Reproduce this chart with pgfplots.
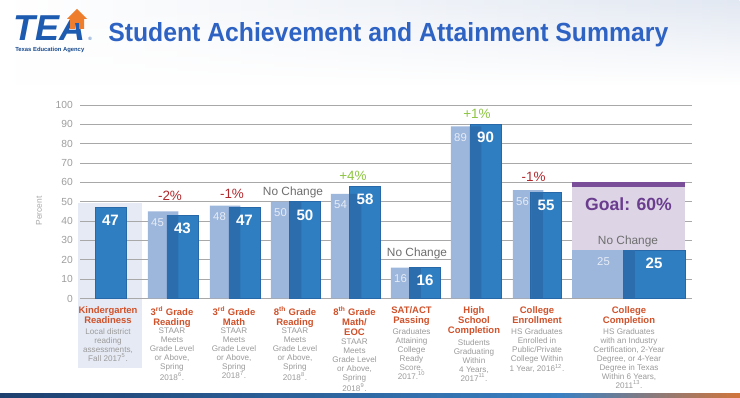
\documentclass[border=0pt]{standalone}
\usepackage{fontspec}
\setmainfont{Liberation Sans}
\usepackage{pgfplots}
\pgfplotsset{compat=1.18}
\usetikzlibrary{fadings}
\definecolor{darkbar}{HTML}{2F7EC1}
\definecolor{darkedge}{HTML}{2769A8}
\definecolor{lightbar}{HTML}{9DB6DC}
\definecolor{overlapc}{HTML}{2C6DAD}
\definecolor{titleblue}{HTML}{2E63C4}
\definecolor{teablue}{HTML}{1C5BB0}
\definecolor{teaorange}{HTML}{EE7D2E}
\definecolor{catorange}{HTML}{D0522B}
\definecolor{descgray}{HTML}{9B9B9B}
\definecolor{tickgray}{HTML}{9E9E9E}
\definecolor{gridgray}{HTML}{A8A8A8}
\definecolor{redpct}{HTML}{B0282C}
\definecolor{greenpct}{HTML}{8DC641}
\definecolor{ncgray}{HTML}{6E6E6E}
\definecolor{goalfill}{HTML}{DDD4E6}
\definecolor{goalline}{HTML}{7A4E98}
\definecolor{goaltext}{HTML}{6A3D8E}
\definecolor{kshade}{HTML}{E6EAF4}
\definecolor{hdr}{HTML}{E2E8F2}
\definecolor{lightlbl}{HTML}{E6ECF6}
\definecolor{navy}{HTML}{1D3F6E}
\definecolor{midblue}{HTML}{3A80C2}
\definecolor{endorange}{HTML}{D2753A}
\newcommand{\cattitle}[3]{\node[anchor=north, align=center, inner sep=0pt, font=\bfseries\fontsize{7.1}{7.5}\selectfont, text=catorange] at (#1,#2) {#3};}
\newcommand{\catdesc}[3]{\node[anchor=north, align=center, inner sep=0pt, font=\fontsize{6.1}{6.75}\selectfont, text=descgray] at (#1,#2) {#3};}
\begin{document}
\begin{tikzpicture}
\begin{axis}[
  set layers,
  axis on top=false,
  at={(60pt,74.625pt)}, anchor=south west,
  x=0.75pt, y=1.45125pt,
  xmin=80, xmax=692, ymin=0, ymax=100,
  enlargelimits=false,
  axis line style={draw=none},
  major tick length=0pt,
  xtick=\empty,
  ytick={0,10,...,100},
  ymajorgrids, grid style={gridgray, line width=0.7pt},
  yticklabel style={font=\fontsize{7.7}{8}\selectfont, text=tickgray, inner sep=0pt, xshift=-5.25pt},
  clip=false,
  /pgf/number format/assume math mode=true,
]
% slide background (pixel x = axis x; axis y = (298.5 - pixel y)/1.935)
\begin{pgfonlayer}{axis background}
  \fill[white] (axis cs:0,154.26) rectangle (axis cs:740,-51.42);
  \shade[left color=white,right color=hdr,path fading=south] (axis cs:0,154.26) rectangle (axis cs:740,110.34);
  \fill[kshade] (axis cs:78,49.35) rectangle (axis cs:142,-35.92);
  \shade[left color=navy,right color=midblue] (axis cs:0,-49.35) rectangle (axis cs:560,-51.42);
  \shade[left color=midblue,right color=endorange] (axis cs:559.5,-49.35) rectangle (axis cs:740,-51.42);
\end{pgfonlayer}
\fill[goalfill] (axis cs:571.5,0) rectangle (axis cs:685,60);
\fill[goalline] (axis cs:571.5,57.6) rectangle (axis cs:685,60);
% previous year (light)
\addplot[ybar, bar width=30.5, bar shift=0pt, fill=lightbar, draw=none,
  nodes near coords, every node near coord/.append style={anchor=north, inner sep=0pt, yshift=-5.2pt, xshift=-4.1pt, font=\fontsize{8.5}{9}\selectfont, text=lightlbl}]
  coordinates {(163,45) (225,48) (286,50) (346,54) (406,16) (466,89) (528,56)};
\addplot[ybar, bar width=63, bar shift=0pt, fill=lightbar, draw=none,
  nodes near coords, every node near coord/.append style={anchor=north, inner sep=0pt, yshift=-5.2pt, font=\fontsize{8.5}{9}\selectfont, text=lightlbl}]
  coordinates {(603.5,25)};
% current year (dark)
\addplot[ybar, bar width=31, bar shift=0pt, fill=darkbar, draw=darkedge, line width=0.5pt]
  coordinates {(110.5,47) (182.5,43) (244.5,47) (305,50) (365,58) (425,16) (485.5,90) (546,55)};
\addplot[ybar, bar width=62, bar shift=0pt, fill=darkbar, draw=darkedge, line width=0.5pt]
  coordinates {(654,25)};
% overlap of the two bars
\addplot[ybar, bar width=11.5, bar shift=0pt, fill=overlapc, draw=none]
  coordinates {(172.5,43) (234.5,47) (295.5,50) (355.5,54) (415,16) (475.5,89) (537,55) (629,25)};
% labels of the dark bars
\addplot[ybar, bar width=31, bar shift=0pt, draw=none, fill=none,
  nodes near coords, every node near coord/.append style={anchor=north, inner sep=0pt, yshift=-5.7pt, font=\bfseries\fontsize{11.3}{12}\selectfont, text=white}]
  coordinates {(110.5,47) (182.5,43) (244.5,47) (305,50) (365,58) (425,16) (485.5,90) (546,55) (654,25)};
\end{axis}
\begin{scope}[x=0.75pt,y=-0.75pt,yshift=298.5pt]
  % logo
  \node[anchor=base west, inner sep=0pt, font=\bfseries\itshape\fontsize{27}{27}\selectfont, text=teablue] at (13,40.5) {TEA};
  \fill[teaorange] (67,19) -- (77,9) -- (87,19) -- (84,19) -- (84,29) -- (79,29) -- (79,23) -- (75,23) -- (75,29) -- (70,29) -- (70,19) -- cycle;
  \node[anchor=base west, inner sep=0pt, font=\fontsize{3.5}{4}\selectfont, text=teablue] at (88,40.5) {\textregistered};
  \node[anchor=base west, inner sep=0pt, font=\bfseries\fontsize{4.4}{5}\selectfont, text=teablue!80!black] at (15,52) {Texas Education Agency};
  % title
  \node[anchor=base west, inner sep=0pt, text=titleblue] at (108,42) {\resizebox{420pt}{14.25pt}{\bfseries Student Achievement and Attainment Summary}};
  % y label
  \node[rotate=90, inner sep=0pt, font=\fontsize{6.3}{7}\selectfont, text=tickgray!90] at (39,211) {Percent};
  % change annotations
  \node[anchor=base, inner sep=0pt, font=\fontsize{10.1}{11}\selectfont, text=redpct] at (170,200.5) {-2\%};
  \node[anchor=base, inner sep=0pt, font=\fontsize{10.1}{11}\selectfont, text=redpct] at (232,199) {-1\%};
  \node[anchor=base, inner sep=0pt, font=\fontsize{8.9}{10}\selectfont, text=ncgray] at (293,195.5) {No Change};
  \node[anchor=base, inner sep=0pt, font=\fontsize{10.1}{11}\selectfont, text=greenpct] at (353,181) {+4\%};
  \node[anchor=base, inner sep=0pt, font=\fontsize{8.9}{10}\selectfont, text=ncgray] at (417,257) {No Change};
  \node[anchor=base, inner sep=0pt, font=\fontsize{10.1}{11}\selectfont, text=greenpct] at (477,118.5) {+1\%};
  \node[anchor=base, inner sep=0pt, font=\fontsize{10.1}{11}\selectfont, text=redpct] at (533.5,182) {-1\%};
  \node[anchor=base, inner sep=0pt, font=\bfseries\fontsize{13.2}{14}\selectfont, text=goaltext] at (628.5,210.3) {Goal: 60\%};
  \node[anchor=base, inner sep=0pt, font=\fontsize{8.9}{10}\selectfont, text=ncgray] at (628,244.5) {No Change};
  % category titles
  \cattitle{108}{306}{Kindergarten\\Readiness}
  \cattitle{172}{306}{3\textsuperscript{rd} Grade\\Reading}
  \cattitle{234}{306}{3\textsuperscript{rd} Grade\\Math}
  \cattitle{295}{306}{8\textsuperscript{th} Grade\\Reading}
  \cattitle{354.5}{306}{8\textsuperscript{th} Grade\\Math/\\EOC}
  \cattitle{411.5}{306}{SAT/ACT\\Passing}
  \cattitle{474}{306}{High\\School\\Completion}
  \cattitle{537}{306}{College\\Enrollment}
  \cattitle{629}{306}{College\\Completion}
  % descriptions
  \catdesc{108}{328}{Local district\\reading\\assessments,\\Fall 2017\textsuperscript{5}.}
  \catdesc{172}{328}{STAAR\\Meets\\Grade Level\\or Above,\\Spring\\2018\textsuperscript{6}.}
  \catdesc{234}{328}{STAAR\\Meets\\Grade Level\\or Above,\\Spring\\2018\textsuperscript{7}.}
  \catdesc{295}{328}{STAAR\\Meets\\Grade Level\\or Above,\\Spring\\2018\textsuperscript{8}.}
  \catdesc{354.5}{339}{STAAR\\Meets\\Grade Level\\or Above,\\Spring\\2018\textsuperscript{9}.}
  \catdesc{411.5}{328}{Graduates\\Attaining\\College\\Ready\\Score,\\2017.\textsuperscript{10}}
  \catdesc{474}{339}{Students\\Graduating\\Within\\4 Years,\\2017\textsuperscript{11}.}
  \catdesc{537}{328}{HS Graduates\\Enrolled in\\Public/Private\\College Within\\1 Year, 2016\textsuperscript{12}.}
  \catdesc{629}{328}{HS Graduates\\with an Industry\\Certification, 2-Year\\Degree, or 4-Year\\Degree in Texas\\Within 6 Years,\\2011\textsuperscript{13}.}
  \pgfresetboundingbox
  \useasboundingbox (0,0) rectangle (740,398);
\end{scope}
\end{tikzpicture}
\end{document}
